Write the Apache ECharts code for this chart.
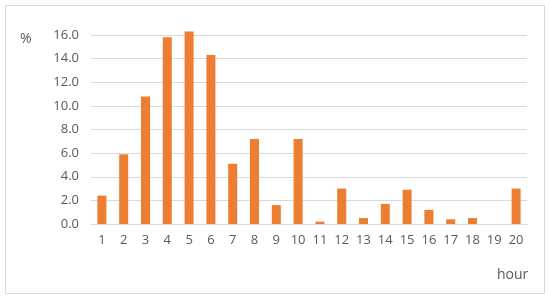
<!DOCTYPE html>
<html>
<head>
<meta charset="utf-8">
<script src="https://cdn.jsdelivr.net/npm/echarts@6/dist/echarts.min.js"></script>
<style>
  html, body { margin: 0; padding: 0; background: #fff; }
  #chart { width: 550px; height: 300px; }
</style>
</head>
<body>
<div id="chart"></div>
<script>
const hours = ['1', '2', '3', '4', '5', '6', '7', '8', '9', '10',
  '11', '12', '13', '14', '15', '16', '17', '18', '19', '20']
const shares = [2.4, 5.9, 10.8, 15.8, 16.3, 14.3, 5.1, 7.2, 1.6, 7.2,
  0.2, 3.0, 0.5, 1.7, 2.9, 1.2, 0.4, 0.5, 0, 3.0]

const textColor = '#595959'
const font = 'Open Sans'

const chart = echarts.init(document.getElementById('chart'), null, { renderer: 'canvas' })

chart.setOption({
  animation: false,
  graphic: [{
    type: 'rect',
    shape: { x: 5.5, y: 5.5, width: 539, height: 288 },
    style: { fill: 'none', stroke: '#d9d9d9', lineWidth: 1 },
    silent: true
  }, {
    type: 'text',
    left: 20,
    top: 32,
    style: { text: '%', fill: textColor, font: '14px "Open Sans"' }
  }, {
    type: 'text',
    left: 497,
    top: 268,
    style: { text: 'hour', fill: textColor, font: '14px "Open Sans"' }
  }],
  grid: {
    left: 91,
    right: 23,
    top: 35,
    bottom: 76
  },
  xAxis: {
    type: 'category',
    data: hours,
    axisLine: { lineStyle: { color: '#d9d9d9' } },
    axisTick: { show: false },
    axisLabel: { color: textColor, fontFamily: font, fontSize: 13, margin: 10 }
  },
  yAxis: {
    type: 'value',
    min: 0,
    max: 16,
    interval: 2,
    axisLine: { show: false },
    axisTick: { show: false },
    splitLine: { lineStyle: { color: '#d9d9d9' } },
    axisLabel: {
      color: textColor,
      fontFamily: font,
      fontSize: 13,
      margin: 12,
      formatter: v => v.toFixed(1)
    }
  },
  series: [{
    type: 'bar',
    data: shares,
    barWidth: 9,
    clip: false,
    itemStyle: { color: '#ed7d31' }
  }]
})
</script>
</body>
</html>
